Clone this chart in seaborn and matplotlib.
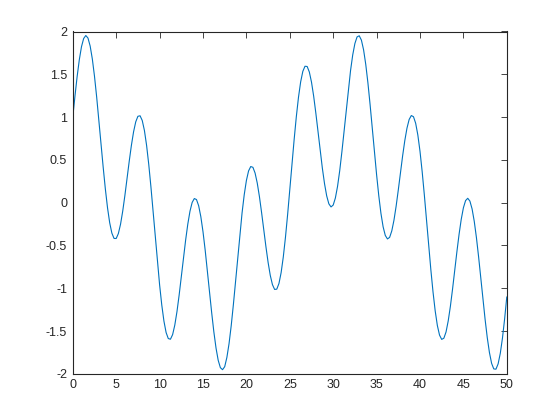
import numpy as np
import matplotlib
matplotlib.use('Agg')
import matplotlib.pyplot as plt
import seaborn as sns

# Valores (paso de 0.25 en x, de 0 a 50)
x = np.arange(0, 50.25, 0.25)
y = [1.000, 1.246, 1.474, 1.670, 1.822, 1.918, 1.953, 1.923, 1.830, 1.679,
     1.476, 1.234, 0.966, 0.688, 0.414, 0.160, -0.060, -0.235, -0.356, -0.418,
     -0.419, -0.361, -0.252, -0.100, 0.083, 0.282, 0.483, 0.669, 0.827, 0.944,
     1.009, 1.015, 0.960, 0.844, 0.670, 0.447, 0.185, -0.102, -0.399, -0.690,
     -0.960, -1.196, -1.385, -1.518, -1.588, -1.596, -1.542, -1.431, -1.274, -1.081,
     -0.867, -0.648, -0.437, -0.250, -0.100, 0.002, 0.048, 0.036, -0.036, -0.164,
     -0.340, -0.554, -0.793, -1.042, -1.286, -1.510, -1.699, -1.842, -1.928, -1.952,
     -1.917, -1.809, -1.648, -1.438, -1.191, -0.920, -0.641, -0.370, -0.120, 0.093,
     0.259, 0.371, 0.422, 0.413, 0.346, 0.229, 0.071, -0.116, -0.316, -0.515,
     -0.698, -0.850, -0.958, -1.014, -1.011, -0.945, -0.818, -0.635, -0.405, -0.138,
     0.151, 0.448, 0.737, 1.003, 1.231, 1.411, 1.534, 1.594, 1.591, 1.527,
     1.408, 1.244, 1.046, 0.830, 0.611, 0.403, 0.222, 0.079, -0.014, -0.050,
     -0.028, 0.054, 0.190, 0.373, 0.593, 0.834, 1.084, 1.326, 1.545, 1.727,
     1.860, 1.937, 1.950, 1.899, 1.786, 1.616, 1.399, 1.146, 0.873, 0.595,
     0.326, 0.082, -0.125, -0.282, -0.383, -0.424, -0.406, -0.330, -0.205, -0.041,
     0.149, 0.350, 0.548, 0.726, 0.871, 0.972, 1.018, 1.004, 0.928, 0.791,
     0.600, 0.362, 0.090, -0.201, -0.498, -0.784, -1.044, -1.265, -1.436, -1.548,
     -1.598, -1.584, -1.511, -1.382, -1.212, -1.010, -0.793, -0.574, -0.371, -0.195,
     -0.060, 0.024, 0.051, 0.018, -0.073, -0.218, -0.408, -0.632, -0.876, -1.126,
     -1.364, -1.578, -1.752, -1.878, -1.943, -1.946, -1.884, -1.761, -1.583, -1.358,
     -1.101]

x_ticks = [0, 5, 10, 15, 20, 25, 30, 35, 40, 45, 50]
y_ticks = [-2, -1.5, -1, -0.5, 0, 0.5, 1, 1.5, 2]
y_labels = ['-2', '-1.5', '-1', '-0.5', '0', '0.5', '1', '1.5', '2']

sns.set_style('white')
plt.rcParams['font.family'] = ['Liberation Sans', 'DejaVu Sans']
plt.rcParams['axes.unicode_minus'] = False

fig = plt.figure(figsize=(5.6, 4.2), dpi=100)
ax = fig.add_axes([0.13, 0.11, 0.775, 0.815])

sns.lineplot(x=x, y=y, color='#0072BD', linewidth=0.8, sort=False, ax=ax)

ax.set_xlim(0, 50)
ax.set_ylim(-2, 2)
ax.set_xticks(x_ticks)
ax.set_xticklabels([str(t) for t in x_ticks])
ax.set_yticks(y_ticks)
ax.set_yticklabels(y_labels)

# Ticks hacia adentro en los cuatro lados (estilo caja)
ax.tick_params(direction='in', length=4, width=0.6, colors='#262626',
               labelsize=9, top=True, right=True, pad=4)
for s in ax.spines.values():
    s.set_color('#262626')
    s.set_linewidth(0.8)

plt.savefig('out.png', dpi=100, facecolor='white')
